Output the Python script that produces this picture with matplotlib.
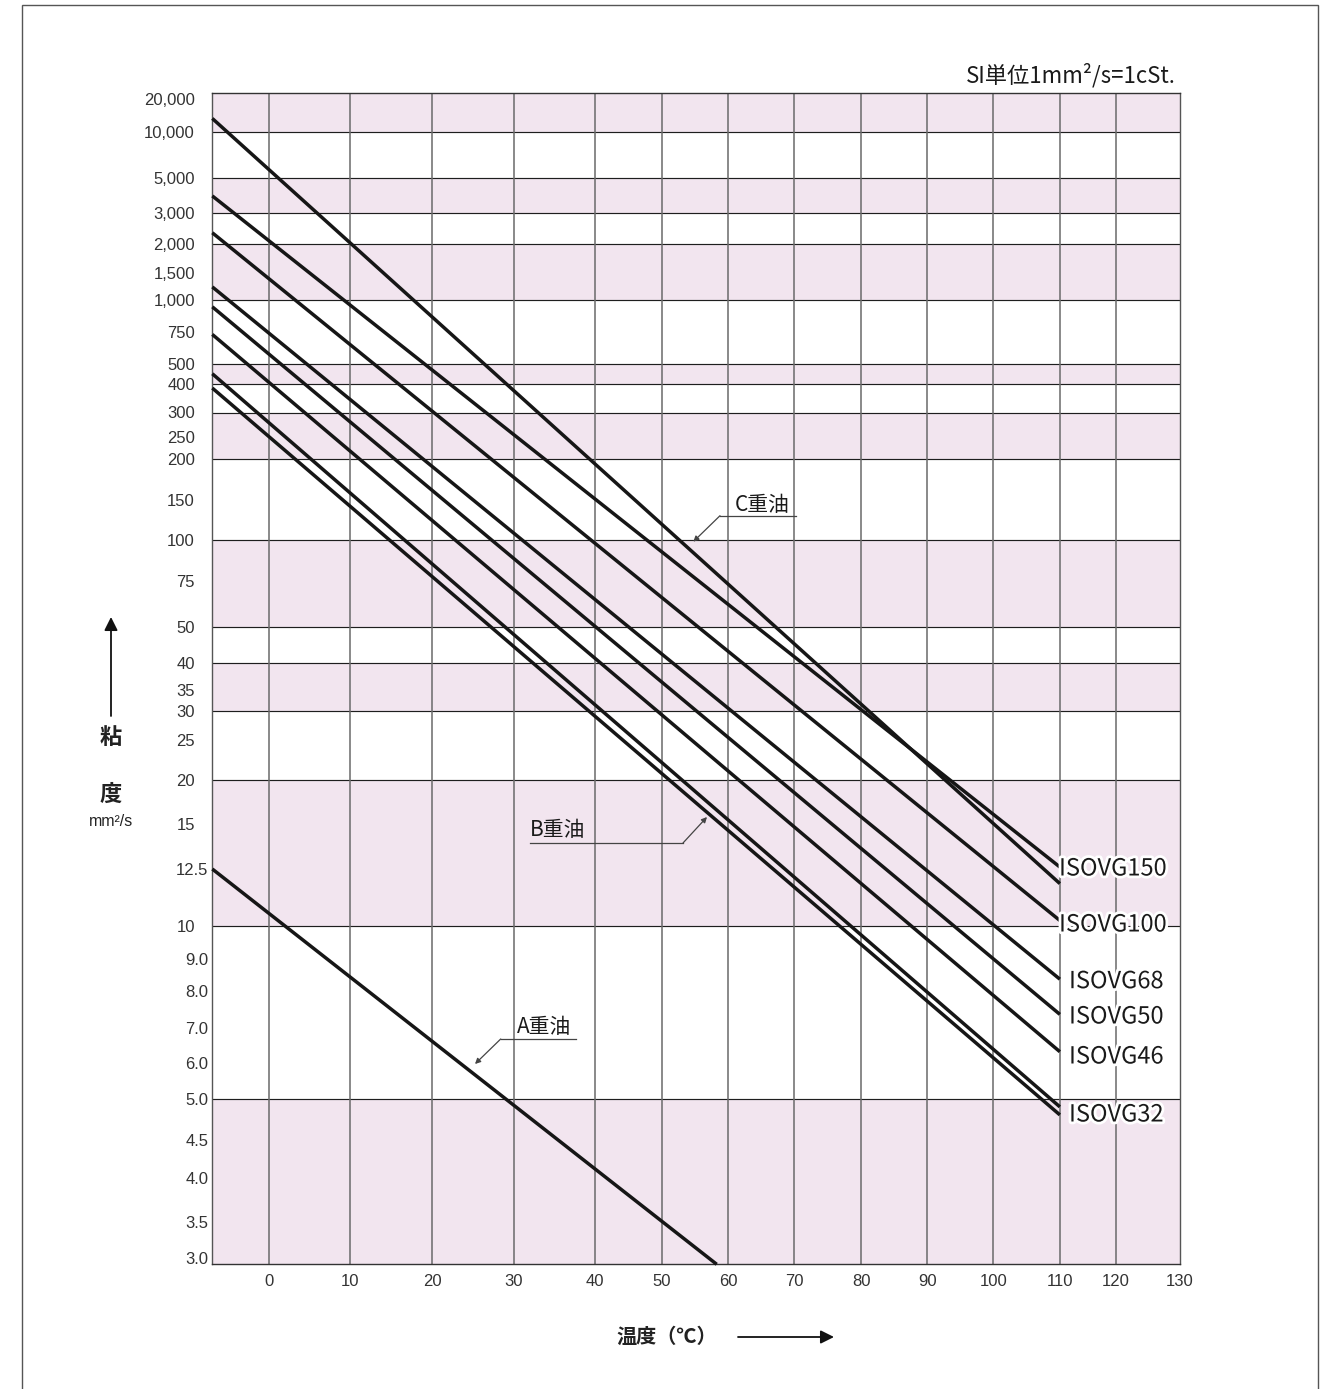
import numpy as np
import matplotlib
matplotlib.use('Agg')
import matplotlib.pyplot as plt
from matplotlib import patheffects
from matplotlib.patches import Rectangle
from matplotlib.lines import Line2D

# ---------------- data ----------------
series_names = ['C重油', 'ISOVG150', 'ISOVG100', 'ISOVG68', 'ISOVG50',
                'ISOVG46', 'ISOVG32', 'B重油', 'A重油']
temp_start = [-7, -7, -7, -7, -7, -7, -7, -7, -7]
visc_start = [12700, 3850, 2320, 1220, 940, 725, 450, 385, 12.5]
temp_end = [110, 110, 110, 110, 110, 110, 110, 110, 58.3]
visc_end = [11.8, 12.6, 10.2, 8.35, 7.35, 6.3, 4.9, 4.8, 3.0]

x_ticks = [0, 10, 20, 30, 40, 50, 60, 70, 80, 90, 100, 110, 120, 130]
x_tick_labels = [str(t) for t in x_ticks]
y_major_ticks = [20000, 10000, 5000, 3000, 2000, 1500, 1000, 750, 500, 400,
                 300, 250, 200, 150, 100, 75, 50, 40, 35, 30, 25, 20, 15, 10]
y_major_labels = ['20,000', '10,000', '5,000', '3,000', '2,000', '1,500',
                  '1,000', '750', '500', '400', '300', '250', '200', '150',
                  '100', '75', '50', '40', '35', '30', '25', '20', '15', '10']
y_minor_ticks = [12.5, 9.0, 8.0, 7.0, 6.0, 5.0, 4.5, 4.0, 3.5, 3.0]
y_minor_labels = ['12.5', '9.0', '8.0', '7.0', '6.0', '5.0', '4.5', '4.0',
                  '3.5', '3.0']
h_grid_values = [5, 10, 20, 30, 40, 50, 100, 200, 300, 400, 500, 1000, 2000,
                 3000, 5000, 10000]
band_low = [3, 10, 30, 50, 200, 400, 1000, 3000, 10000]
band_high = [5, 20, 40, 100, 300, 500, 2000, 5000, 20000]

# ---------------- chart scale (non-uniform printed chart grid) ----------------
X_SCALE_VAL = x_ticks
X_SCALE_POS = [268.7, 350, 431.7, 513.3, 595, 661.7, 727.7, 794.2, 860.9,
               927.1, 993.3, 1059.8, 1116, 1180]
Y_SCALE_VAL = [3.0, 3.5, 4.0, 4.5, 5.0, 6.0, 7.0, 8.0, 9.0, 10, 12.5, 15, 20,
               25, 30, 35, 40, 50, 75, 100, 150, 200, 250, 300, 400, 500, 750,
               1000, 1500, 2000, 3000, 5000, 10000, 20000]
Y_SCALE_PIX = [1264.3, 1221.7, 1178, 1140, 1099, 1062.7, 1028, 990.7, 959,
               925.5, 869, 824, 780, 740, 711.3, 690, 662.7, 627, 581, 540, 500,
               458.7, 437.3, 412.5, 384.3, 364.3, 331.7, 300, 273.3, 244, 213.3,
               177.7, 131.7, 93.3]


def _interp_ext(t, xs, ys):
    t = np.asarray(t, dtype=float)
    out = np.interp(t, xs, ys)
    lo_s = (ys[1] - ys[0]) / (xs[1] - xs[0])
    hi_s = (ys[-1] - ys[-2]) / (xs[-1] - xs[-2])
    out = np.where(t < xs[0], ys[0] + (t - xs[0]) * lo_s, out)
    out = np.where(t > xs[-1], ys[-1] + (t - xs[-1]) * hi_s, out)
    return out


xs_v = np.array(X_SCALE_VAL, float)
xs_p = np.array(X_SCALE_POS, float)
ys_v = np.log10(np.array(Y_SCALE_VAL, float))
ys_p = -np.array(Y_SCALE_PIX, float)


def x_fwd(v):
    return _interp_ext(v, xs_v, xs_p)


def x_inv(p):
    return _interp_ext(p, xs_p, xs_v)


def y_fwd(v):
    v = np.asarray(v, dtype=float)
    return _interp_ext(np.log10(np.clip(v, 1e-6, None)), ys_v, ys_p)


def y_inv(p):
    return 10 ** _interp_ext(p, ys_p, ys_v)


# ---------------- figure ----------------
W, H = 1332, 1389
fig = plt.figure(figsize=(W / 100, H / 100), dpi=100)
fig.patch.set_facecolor('white')

ax_l, ax_r, ax_t, ax_b = 212.3, 1180, 93.3, 1264.3
ax = fig.add_axes([ax_l / W, 1 - ax_b / H, (ax_r - ax_l) / W, (ax_b - ax_t) / H])
ax.set_xscale('function', functions=(x_fwd, x_inv))
ax.set_yscale('function', functions=(y_fwd, y_inv))
ax.set_xlim(-7, 130)
ax.set_ylim(3.0, 20000)

CJK = ['Noto Sans CJK JP', 'DejaVu Sans']
NUM = ['Liberation Sans', 'DejaVu Sans']

# shaded bands
for lo, hi in zip(band_low, band_high):
    ax.axhspan(lo, hi, color='#f2e5ef', lw=0, zorder=0)
# grid
for v in h_grid_values:
    ax.axhline(v, color='#1e1e1e', lw=0.85, zorder=1)
for t in x_ticks[:-1]:
    ax.axvline(t, color='#6a6a6a', lw=1.1, zorder=1)

for sp in ax.spines.values():
    sp.set_color('#555555')
    sp.set_linewidth(1.0)
ax.spines['bottom'].set_color('#333333')
ax.spines['top'].set_color('#333333')

# data lines
for ts, vs, te, ve in zip(temp_start, visc_start, temp_end, visc_end):
    ax.plot([ts, te], [vs, ve], color='#161616', lw=2.5,
            solid_capstyle='butt', zorder=3, clip_on=False)

# ticks
ax.set_xticks(x_ticks)
ax.set_xticklabels(x_tick_labels)
ax.set_xticks([], minor=True)
ax.set_yticks(y_major_ticks)
ax.set_yticklabels(y_major_labels)
ax.set_yticks(y_minor_ticks, minor=True)
ax.set_yticklabels(y_minor_labels, minor=True)
ax.tick_params(axis='x', which='both', length=0, pad=7, labelsize=12,
               labelcolor='#333333')
ax.tick_params(axis='y', which='major', length=0, pad=12.5, labelsize=12,
               labelcolor='#333333')
ax.tick_params(axis='y', which='minor', length=0, pad=3, labelsize=12,
               labelcolor='#333333')
for lab in ax.get_xticklabels() + ax.get_yticklabels() + \
        ax.get_yticklabels(minor=True):
    lab.set_fontfamily(NUM)
for lab in ax.get_yticklabels():
    if lab.get_text() == '20,000':
        lab.set_verticalalignment('top')
for lab in ax.get_yticklabels(minor=True):
    if lab.get_text() == '3.0':
        lab.set_verticalalignment('baseline')


def fx(x):
    return x / W


def fy(y):
    return 1 - y / H


# line labels on the right
halo = [patheffects.withStroke(linewidth=4, foreground='white')]
right_labels = ['ISOVG150', 'ISOVG100', 'ISOVG68', 'ISOVG50', 'ISOVG46', 'ISOVG32']
right_lab_x = [1059, 1059, 1069, 1069, 1069, 1069]
right_lab_y = [869, 925, 981.7, 1017, 1057, 1115]
for s, x, y in zip(right_labels, right_lab_x, right_lab_y):
    fig.text(fx(x), fy(y), s, fontsize=17, family=CJK, color='#1a1a1a',
             ha='left', va='center', path_effects=halo, zorder=5)

# heavy oil labels with leaders
oil_texts = ['C重油', 'B重油', 'A重油']
oil_text_xy = [(735, 505), (530, 830), (516.7, 1026.7)]
oil_under = [((720, 515.7), (796, 515.7)), ((530, 843), (683, 843)),
             ((500.7, 1039), (576, 1039))]
oil_tip = [((720, 515.7), (693.3, 541.7)), ((683, 843), (707, 817)),
           ((500.7, 1039), (475, 1064))]
for s, (tx, ty), (u0, u1), (l0, l1) in zip(oil_texts, oil_text_xy, oil_under, oil_tip):
    fig.text(fx(tx), fy(ty), s, fontsize=15, family=CJK, color='#1a1a1a',
             ha='left', va='center')
    fig.add_artist(Line2D([fx(u0[0]), fx(u1[0])], [fy(u0[1]), fy(u1[1])],
                          color='#444444', lw=0.9))
    ax.annotate('', xy=(l1[0], H - l1[1]), xycoords='figure pixels',
                xytext=(l0[0], H - l0[1]), textcoords='figure pixels',
                arrowprops=dict(arrowstyle='-|>', color='#444444', lw=0.9,
                                mutation_scale=8, shrinkA=0, shrinkB=0))

# title
fig.text(fx(1176), fy(75), 'SI単位1mm²/s=1cSt.', fontsize=16, family=CJK,
         color='#1a1a1a', ha='right', va='center')

# y-axis label with arrow
ax.annotate('', xy=(111, H - 617), xycoords='figure pixels',
            xytext=(111, H - 716), textcoords='figure pixels',
            arrowprops=dict(arrowstyle='-|>', color='#111111', lw=1.3,
                            mutation_scale=20, shrinkA=0, shrinkB=0))
fig.text(fx(111), fy(737), '粘', fontsize=16, family=CJK, weight='bold',
         color='#222222', ha='center', va='center')
fig.text(fx(111), fy(794), '度', fontsize=16, family=CJK, weight='bold',
         color='#222222', ha='center', va='center')
fig.text(fx(111), fy(821), 'mm²/s', fontsize=11.5, family=NUM,
         color='#222222', ha='center', va='center')

# x-axis label with arrow
fig.text(fx(667), fy(1336), '温度（℃）', fontsize=14.5, family=CJK, weight='bold',
         color='#222222', ha='center', va='center')
ax.annotate('', xy=(834, H - 1337), xycoords='figure pixels',
            xytext=(738, H - 1337), textcoords='figure pixels',
            arrowprops=dict(arrowstyle='-|>', color='#111111', lw=1.3,
                            mutation_scale=20, shrinkA=0, shrinkB=0))

# outer frame
fig.add_artist(Rectangle((fx(22), fy(1400)), fx(1318) - fx(22), fy(5) - fy(1400),
                         fill=False, edgecolor='#555555', lw=1.0,
                         transform=fig.transFigure, clip_on=False))

fig.savefig('out.png', dpi=100, facecolor='white')
